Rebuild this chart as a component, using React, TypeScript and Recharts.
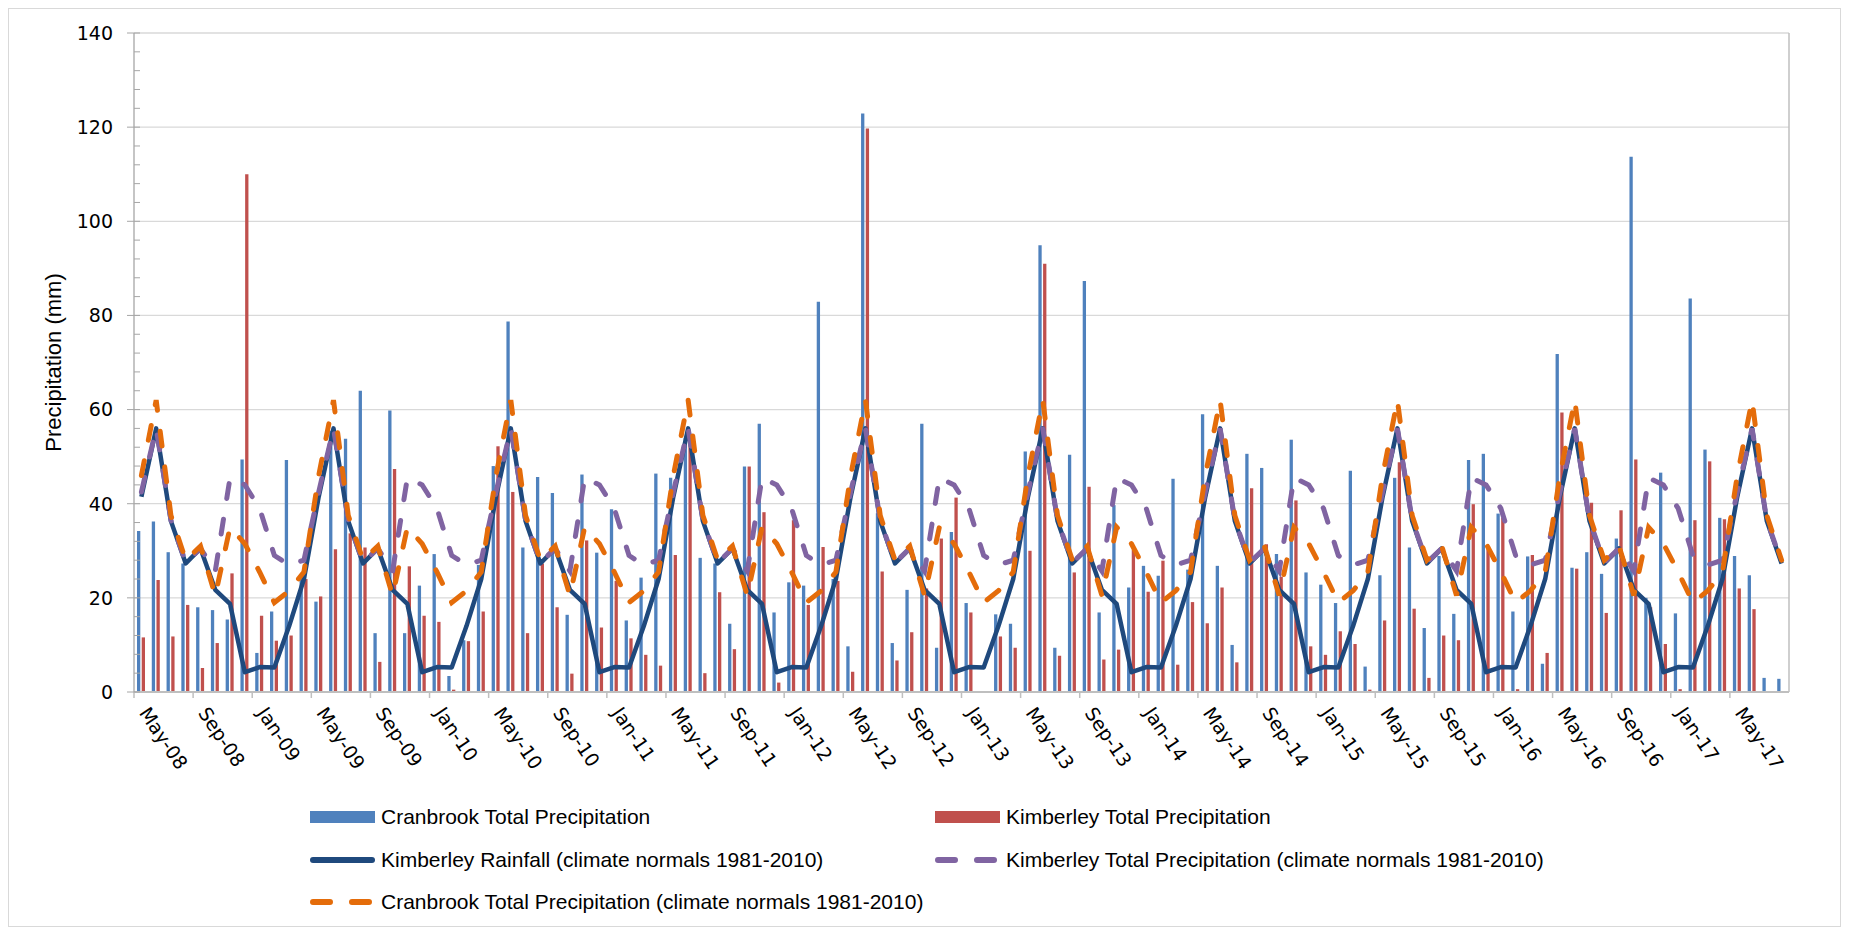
import React from 'react';
import { ComposedChart, Bar, Line, XAxis, YAxis, CartesianGrid } from 'recharts';

const MONTHS = [
  'May-08','Jun-08','Jul-08','Aug-08','Sep-08','Oct-08','Nov-08','Dec-08',
  'Jan-09','Feb-09','Mar-09','Apr-09','May-09','Jun-09','Jul-09','Aug-09','Sep-09','Oct-09','Nov-09','Dec-09',
  'Jan-10','Feb-10','Mar-10','Apr-10','May-10','Jun-10','Jul-10','Aug-10','Sep-10','Oct-10','Nov-10','Dec-10',
  'Jan-11','Feb-11','Mar-11','Apr-11','May-11','Jun-11','Jul-11','Aug-11','Sep-11','Oct-11','Nov-11','Dec-11',
  'Jan-12','Feb-12','Mar-12','Apr-12','May-12','Jun-12','Jul-12','Aug-12','Sep-12','Oct-12','Nov-12','Dec-12',
  'Jan-13','Feb-13','Mar-13','Apr-13','May-13','Jun-13','Jul-13','Aug-13','Sep-13','Oct-13','Nov-13','Dec-13',
  'Jan-14','Feb-14','Mar-14','Apr-14','May-14','Jun-14','Jul-14','Aug-14','Sep-14','Oct-14','Nov-14','Dec-14',
  'Jan-15','Feb-15','Mar-15','Apr-15','May-15','Jun-15','Jul-15','Aug-15','Sep-15','Oct-15','Nov-15','Dec-15',
  'Jan-16','Feb-16','Mar-16','Apr-16','May-16','Jun-16','Jul-16','Aug-16','Sep-16','Oct-16','Nov-16','Dec-16',
  'Jan-17','Feb-17','Mar-17','Apr-17','May-17','Jun-17','Jul-17','Aug-17',
];

// Monthly totals (mm), May-08 .. Aug-17
const CRANBROOK_TOTAL = [
  34.2, 36.2, 29.7, 27.3, 18.0, 17.4, 15.4, 49.4,
  8.3, 17.1, 49.3, 25.0, 19.2, 55.5, 53.8, 64.0, 12.5, 59.8, 12.5, 22.6,
  29.3, 3.4, 11.0, 27.0, 48.0, 78.7, 30.7, 45.7, 42.3, 16.4, 46.2, 29.6,
  38.8, 15.2, 24.3, 46.4, 45.5, 54.0, 28.5, 27.3, 14.5, 47.9, 57.0, 16.9,
  23.3, 22.6, 82.9, 24.0, 9.7, 122.9, 38.0, 10.4, 21.7, 57.0, 9.4, 34.0,
  18.9, 0, 16.5, 14.5, 51.1, 94.9, 9.4, 50.4, 87.3, 16.9, 39.7, 22.2,
  26.8, 24.7, 45.3, 26.0, 59.0, 26.8, 10.0, 50.6, 47.6, 29.3, 53.6, 25.4,
  22.8, 18.9, 47.0, 5.4, 24.8, 45.5, 30.7, 13.6, 28.9, 16.6, 49.3, 50.6,
  37.9, 17.1, 28.8, 6.0, 71.8, 26.4, 29.7, 25.1, 32.6, 113.7, 20.0, 46.6,
  16.7, 83.6, 51.5, 37.0, 28.9, 24.8, 3.0, 2.8,
];

const KIMBERLEY_TOTAL = [
  11.6, 23.8, 11.8, 18.5, 5.1, 10.4, 25.2, 110.0,
  16.2, 10.9, 12.0, 24.0, 20.3, 30.3, 33.7, 30.7, 6.4, 47.4, 26.7, 16.2,
  14.9, 0.5, 10.8, 17.1, 52.2, 42.5, 12.5, 27.3, 18.0, 3.9, 32.2, 13.7,
  23.6, 11.4, 7.9, 5.6, 29.1, 53.0, 4.0, 21.2, 9.1, 47.9, 38.2, 2.0,
  36.5, 18.5, 30.8, 23.6, 4.3, 119.7, 25.6, 6.7, 12.7, 22.0, 32.6, 41.3,
  16.9, 0, 11.8, 9.4, 30.0, 91.0, 7.7, 25.4, 43.6, 6.9, 9.0, 30.2,
  21.3, 27.9, 5.8, 19.1, 14.6, 22.2, 6.3, 43.3, 31.4, 24.5, 40.7, 9.7,
  7.9, 12.9, 10.2, 0.5, 15.2, 48.8, 17.7, 3.0, 12.0, 11.0, 39.9, 31.0,
  37.0, 0.6, 29.1, 8.3, 59.4, 26.2, 40.2, 16.8, 38.6, 49.4, 18.0, 10.2,
  0.6, 36.5, 49.0, 36.7, 22.0, 17.6, null, null,
];

// Climate normals 1981-2010, Jan .. Dec
const KIMBERLEY_RAIN_NORMAL = [5.3, 5.2, 14.0, 24.0, 41.5, 56.0, 36.3, 27.3, 30.5, 21.7, 18.7, 4.2];
const KIMBERLEY_PRECIP_NORMAL = [39.0, 29.0, 27.0, 28.0, 42.5, 56.0, 36.5, 27.5, 30.5, 25.7, 45.5, 44.0];
const CRANBROOK_PRECIP_NORMAL = [25.5, 19.0, 21.5, 25.5, 46.0, 62.0, 37.5, 28.0, 31.0, 20.5, 35.0, 31.5];
const FIRST_CALENDAR_MONTH = 4; // May

const Y_TICKS = [0, 4, 8, 12, 16, 20, 24, 28, 32, 36, 40, 44, 48, 52, 56, 60, 64, 68, 72, 76, 80,
  84, 88, 92, 96, 100, 104, 108, 112, 116, 120, 124, 128, 132, 136, 140];
const GRID_VALUES = [20, 40, 60, 80, 100, 120, 140];

const SERIES_NAMES = {
  cran: 'Cranbrook Total Precipitation',
  kim: 'Kimberley Total Precipitation',
  kimRainN: 'Kimberley Rainfall (climate normals 1981-2010)',
  kimPrecipN: 'Kimberley Total Precipitation (climate normals 1981-2010)',
  cranPrecipN: 'Cranbrook Total Precipitation (climate normals 1981-2010)',
};

const COLORS = {
  cran: '#4F81BD',
  kim: '#C0504D',
  kimRainN: '#1F497D',
  kimPrecipN: '#8064A2',
  cranPrecipN: '#E46C0A',
};

const data = MONTHS.map((m, i) => ({
  month: m,
  cran: CRANBROOK_TOTAL[i],
  kim: KIMBERLEY_TOTAL[i],
  kimRainN: KIMBERLEY_RAIN_NORMAL[(FIRST_CALENDAR_MONTH + i) % 12],
  kimPrecipN: KIMBERLEY_PRECIP_NORMAL[(FIRST_CALENDAR_MONTH + i) % 12],
  cranPrecipN: CRANBROOK_PRECIP_NORMAL[(FIRST_CALENDAR_MONTH + i) % 12],
}));

const CHART_W = 1831;
const CHART_H = 917;
const MARGIN = { top: 24, right: 50, left: 0, bottom: 0 };
const Y_AXIS_W = 125;
const X_AXIS_H = 234;
const PLOT_W = CHART_W - MARGIN.right - 1 - Y_AXIS_W;
const BAND = PLOT_W / MONTHS.length;
const TICK_FONT = '"DejaVu Sans", Verdana, sans-serif';
const LEGEND_FONT = '"Liberation Sans", Arial, sans-serif';

const XTick = (props: any) => {
  const { x, y, payload } = props;
  const bx = x - BAND / 2;
  return (
    <g>
      <line x1={bx} x2={bx} y1={y} y2={y + 6} stroke="#BFBFBF" strokeWidth={1.5} />
      <text
        transform={`translate(${x - 3},${y + 21}) rotate(56)`}
        fontSize={19}
        fontFamily={TICK_FONT}
        fill="#000"
        textAnchor="start"
      >
        {payload.value}
      </text>
    </g>
  );
};

const YTick = (props: any) => {
  const { x, y, payload } = props;
  const v = payload.value;
  const major = v % 20 === 0;
  if (!major) {
    return <line x1={x} x2={x + 6} y1={y} y2={y} stroke="#A6A6A6" strokeWidth={1} />;
  }
  return (
    <g>
      <line x1={x - 7} x2={x + 6} y1={y} y2={y} stroke="#A6A6A6" strokeWidth={1} />
      <text x={x - 21} y={y} dy="0.36em" textAnchor="end" fontSize={19} fontFamily={TICK_FONT} fill="#000">
        {v}
      </text>
    </g>
  );
};

const YTitle = (props: any) => {
  const vb = props.viewBox || { x: 0, y: MARGIN.top, width: Y_AXIS_W, height: 659 };
  const cx = 44;
  const cy = vb.y + vb.height / 2;
  return (
    <text
      transform={`translate(${cx},${cy}) rotate(-90)`}
      textAnchor="middle"
      dy="0.35em"
      fontSize={22}
      fontFamily={LEGEND_FONT}
      fill="#000"
    >
      Precipitation (mm)
    </text>
  );
};

const Swatch = ({ kind, color }: { kind: 'bar' | 'solid' | 'dash'; color: string }) => {
  if (kind === 'bar') {
    return <div style={{ width: 65, height: 12, background: color }} />;
  }
  return (
    <svg width={65} height={14} style={{ display: 'block' }}>
      {kind === 'solid' ? (
        <line x1={3} x2={62} y1={7} y2={7} stroke={color} strokeWidth={6} strokeLinecap="round" />
      ) : (
        <line x1={3} x2={64} y1={7} y2={7} stroke={color} strokeWidth={6} strokeLinecap="round" strokeDasharray="17 22" />
      )}
    </svg>
  );
};

const LEGEND_ITEMS: { key: keyof typeof SERIES_NAMES; kind: 'bar' | 'solid' | 'dash'; left: number; top: number }[] = [
  { key: 'cran', kind: 'bar', left: 301, top: 808 },
  { key: 'kim', kind: 'bar', left: 926, top: 808 },
  { key: 'kimRainN', kind: 'solid', left: 301, top: 851 },
  { key: 'kimPrecipN', kind: 'dash', left: 926, top: 851 },
  { key: 'cranPrecipN', kind: 'dash', left: 301, top: 893 },
];

export default function App() {
  return (
    <div
      style={{
        position: 'relative',
        width: CHART_W + 2,
        height: CHART_H + 2,
        border: '1px solid #D9D9D9',
        boxSizing: 'border-box',
        background: '#fff',
      }}
    >
      <ComposedChart width={CHART_W} height={CHART_H} data={data} margin={MARGIN} barSize={3.3} barGap={1.4}>
        <CartesianGrid horizontal vertical={false} horizontalValues={GRID_VALUES} stroke="#D9D9D9" strokeWidth={1.3} />
        <XAxis
          dataKey="month"
          interval={3}
          height={X_AXIS_H}
          tickSize={0}
          tickMargin={0}
          tickLine={false}
          axisLine={{ stroke: '#BFBFBF', strokeWidth: 2 }}
          tick={<XTick />}
        />
        <YAxis
          domain={[0, 140]}
          ticks={Y_TICKS}
          interval={0}
          width={Y_AXIS_W}
          tickSize={0}
          tickMargin={0}
          tickLine={false}
          axisLine={{ stroke: '#A6A6A6', strokeWidth: 1.3 }}
          tick={<YTick />}
          label={<YTitle />}
        />
        <YAxis
          yAxisId="r"
          orientation="right"
          width={1}
          tick={false}
          tickLine={false}
          axisLine={{ stroke: '#BFBFBF', strokeWidth: 1.5 }}
        />
        <Bar dataKey="cran" name={SERIES_NAMES.cran} fill={COLORS.cran} isAnimationActive={false} />
        <Bar dataKey="kim" name={SERIES_NAMES.kim} fill={COLORS.kim} isAnimationActive={false} />
        <Line
          type="linear"
          dataKey="kimRainN"
          name={SERIES_NAMES.kimRainN}
          stroke={COLORS.kimRainN}
          strokeWidth={4.5}
          strokeLinejoin="round"
          dot={false}
          activeDot={false}
          isAnimationActive={false}
        />
        <Line
          type="linear"
          dataKey="kimPrecipN"
          name={SERIES_NAMES.kimPrecipN}
          stroke={COLORS.kimPrecipN}
          strokeWidth={5}
          strokeDasharray="15 21"
          strokeLinecap="round"
          dot={false}
          activeDot={false}
          isAnimationActive={false}
        />
        <Line
          type="linear"
          dataKey="cranPrecipN"
          name={SERIES_NAMES.cranPrecipN}
          stroke={COLORS.cranPrecipN}
          strokeWidth={5}
          strokeDasharray="15 21"
          strokeLinecap="round"
          dot={false}
          activeDot={false}
          isAnimationActive={false}
        />
      </ComposedChart>
      {LEGEND_ITEMS.map((it) => (
        <div
          key={it.key}
          style={{
            position: 'absolute',
            left: it.left,
            top: it.top - 14,
            height: 28,
            display: 'flex',
            alignItems: 'center',
            gap: 6,
            fontFamily: LEGEND_FONT,
            fontSize: 21,
            color: '#000',
            whiteSpace: 'nowrap',
          }}
        >
          <Swatch kind={it.kind} color={COLORS[it.key]} />
          <span>{SERIES_NAMES[it.key]}</span>
        </div>
      ))}
    </div>
  );
}
